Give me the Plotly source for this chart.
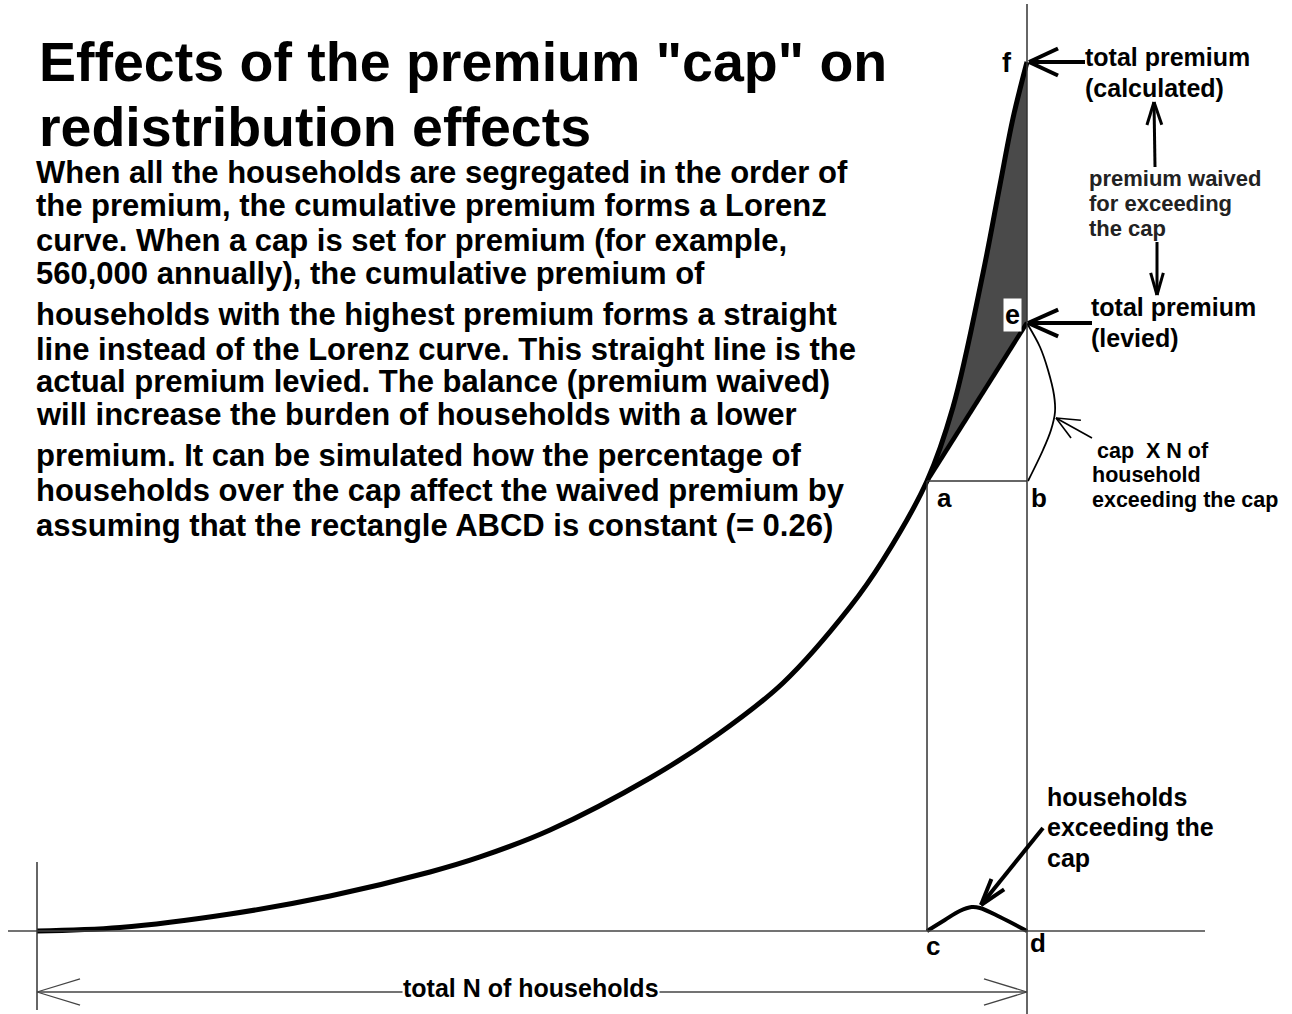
import math
import plotly.graph_objects as go

# ---------------- data (normalised: share of households, cumulative premium share) ----------------
share_households = [0.0, 0.0838, 0.1949, 0.2960, 0.3970, 0.4475, 0.5182, 0.6192, 0.6869,
                    0.7535, 0.8212, 0.8545, 0.8990, 0.9253, 0.9556, 0.9727, 0.9859, 1.0]
cumulative_premium = [0.0, 0.0040, 0.0196, 0.0403, 0.0679, 0.0852, 0.1162, 0.1761, 0.2255,
                      0.2854, 0.3728, 0.4269, 0.5178, 0.6030, 0.7572, 0.8585, 0.9356, 1.0]
cap_share = 0.899          # point a / c (households below the cap)
cap_premium_at_a = 0.5178  # height of a / b
levied_total = 0.70        # point e (total premium levied)
hump_x = [0.899, 0.917, 0.932, 0.944, 0.9525, 0.9727, 1.0]
hump_y = [0.0, 0.0127, 0.023, 0.0276, 0.0265, 0.0161, 0.0]

title_lines = ['Effects of the premium "cap" on', 'redistribution effects']
body_lines = [
    "When all the households are segregated in the order of",
    "the premium, the cumulative premium forms a Lorenz",
    "curve. When a cap is set for premium (for example,",
    "560,000 annually), the cumulative premium of",
    "households with the highest premium forms a straight",
    "line instead of the Lorenz curve. This straight line is the",
    "actual premium levied. The balance (premium waived)",
    "will increase the burden of households with a lower",
    "premium. It can be simulated how the percentage of",
    "households over the cap affect the waived premium by",
    "assuming that the rectangle ABCD is constant (= 0.26)",
]

# ---------------- layout helpers (pixel -> data) ----------------
W, H = 1292, 1014
X0, XS = 37, 990
Y0, YS = 931, 869
def X(px): return (px - X0) / XS
def Y(py): return (Y0 - py) / YS

FONT = "Liberation Sans, Arial, sans-serif"
fig = go.Figure()
shapes = []
annotations = []

def line(p1, p2, width=1.5, color="#333333"):
    shapes.append(dict(type="line", xref="x", yref="y",
                       x0=X(p1[0]), y0=Y(p1[1]), x1=X(p2[0]), y1=Y(p2[1]),
                       line=dict(color=color, width=width)))

def head(tip, tail, length, angle, width, color):
    dx, dy = tail[0] - tip[0], tail[1] - tip[1]
    d = math.hypot(dx, dy)
    ux, uy = dx / d, dy / d
    for s in (1, -1):
        a = math.radians(angle) * s
        hx = ux * math.cos(a) - uy * math.sin(a)
        hy = ux * math.sin(a) + uy * math.cos(a)
        line(tip, (tip[0] + hx * length, tip[1] + hy * length), width, color)

def arrow(tail, tip, width, length, angle, color="#000000", hw=None):
    line(tail, tip, width, color)
    head(tip, tail, length, angle, hw or width, color)

def text(s, px, py, size, xanchor="left", bg=None, color="#000000", pad=0):
    annotations.append(dict(text=s, x=X(px), y=Y(py), xref="x", yref="y",
                            xanchor=xanchor, yanchor="middle", showarrow=False,
                            font=dict(family=FONT, size=size, color=color, weight="bold"),
                            bgcolor=bg, borderpad=pad))

# ---------------- waived premium fill ----------------
fx = [x for x in share_households if x >= cap_share] + [1.0, cap_share]
fy = [y for x, y in zip(share_households, cumulative_premium) if x >= cap_share] + [levied_total, cap_premium_at_a]
fig.add_trace(go.Scatter(x=fx, y=fy, mode="lines", fill="toself", fillcolor="#4a4a4a",
                         line=dict(width=0), hoverinfo="skip", showlegend=False))

# ---------------- axes / construction lines ----------------
line((8, 931), (1205, 931), 1.5, "#444444")          # baseline
line((37, 862), (37, 1010), 1.5, "#333333")          # left vertical
line((1027, 4), (1027, 1014), 1.5, "#333333")        # right vertical
shapes.append(dict(type="line", xref="x", yref="y", x0=cap_share, y0=0, x1=cap_share,
                   y1=cap_premium_at_a, line=dict(color="#333333", width=1.5)))
shapes.append(dict(type="line", xref="x", yref="y", x0=cap_share, y0=cap_premium_at_a, x1=1.0,
                   y1=cap_premium_at_a, line=dict(color="#333333", width=1.5)))

# Lorenz curve
fig.add_trace(go.Scatter(x=share_households, y=cumulative_premium, mode="lines",
                         line=dict(color="#000000", width=5, shape="spline", smoothing=1.0),
                         hoverinfo="skip", showlegend=False))
# levied straight line a -> e
fig.add_trace(go.Scatter(x=[cap_share, 1.0], y=[cap_premium_at_a, levied_total], mode="lines",
                         line=dict(color="#000000", width=4.5), hoverinfo="skip", showlegend=False))
# households exceeding the cap (hump)
fig.add_trace(go.Scatter(x=hump_x, y=hump_y, mode="lines",
                         line=dict(color="#000000", width=4, shape="spline"),
                         hoverinfo="skip", showlegend=False))
# brace curve from e to b
brace = [(1028, 325), (1040, 347), (1048, 370), (1054, 395), (1055, 412), (1051, 430), (1043, 450), (1028, 481)]
fig.add_trace(go.Scatter(x=[X(p[0]) for p in brace], y=[Y(p[1]) for p in brace], mode="lines",
                         line=dict(color="#000000", width=1.8, shape="spline"),
                         hoverinfo="skip", showlegend=False))

# ---------------- arrows ----------------
arrow((1085, 62), (1029, 62), 4, 32, 25)
arrow((1092, 323), (1028, 323), 4, 33, 24)
arrow((1155, 167), (1154, 102), 3, 24, 18)
arrow((1157, 242), (1157, 295), 3, 23, 16)
arrow((1092, 438), (1056, 418), 1.6, 25, 24)
arrow((1043, 828), (981, 905), 4, 28, 17)
# dimension line (total N)
line((37, 992), (1027, 992), 1.5, "#444444")
head((37, 992), (1027, 992), 45, 17, 1.3, "#444444")
head((1027, 992), (37, 992), 45, 17, 1.3, "#444444")

# ---------------- texts ----------------
text(title_lines[0], 38, 62, 55.5)
text(title_lines[1], 38, 127, 55.5)
body_y = [172, 205, 240, 273, 314, 349, 381, 414, 455, 490, 525]
for s, yy in zip(body_lines, body_y):
    text(s, 35, yy, 31)

text("f", 1001, 63, 27)
text("total premium", 1084, 57, 25)
text("(calculated)", 1084, 88, 25)
text("premium waived", 1088, 178, 22, color="#222222")
text("for exceeding", 1088, 203, 22, color="#222222")
text("the cap", 1088, 228, 22, color="#222222")
text("total premium", 1090, 307, 25)
text("(levied)", 1090, 338, 25)
text("cap  X N of", 1096, 451, 21.5)
text("household", 1091, 475, 21.5)
text("exceeding the cap", 1091, 500, 21.5)
text("e", 1012, 315, 27, xanchor="center", bg="#ffffff", pad=1)
text("a", 936, 498, 26)
text("b", 1030, 498, 26)
text("c", 925, 946, 26)
text("d", 1029, 943, 26)
text("households", 1046, 797, 25)
text("exceeding the", 1046, 827, 25)
text("cap", 1046, 858, 25)
text("total N of households", 531, 988, 25, xanchor="center", bg="#ffffff")

fig.update_layout(
    width=W, height=H, margin=dict(l=0, r=0, t=0, b=0),
    paper_bgcolor="#ffffff", plot_bgcolor="#ffffff",
    xaxis=dict(range=[X(0), X(W)], visible=False, fixedrange=True),
    yaxis=dict(range=[Y(H), Y(0)], visible=False, fixedrange=True),
    shapes=shapes, annotations=annotations, showlegend=False,
)
fig.write_html("out.html", config={"displayModeBar": False, "staticPlot": True},
               post_script="document.body.style.margin='0';document.body.style.overflow='hidden';")
